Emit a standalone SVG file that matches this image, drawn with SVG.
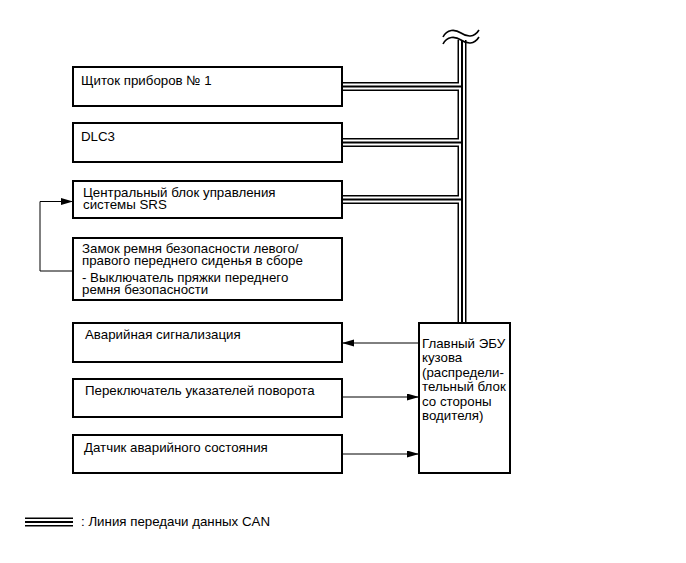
<svg xmlns="http://www.w3.org/2000/svg" width="686" height="563" viewBox="0 0 686 563">
<style>
  .box { fill: #fff; stroke: #000; stroke-width: 2; }
  .t { font-family: "Liberation Sans", Arial, sans-serif; font-size: 13.3px; fill: #000; }
  .busA { fill: none; stroke: #000; stroke-width: 9; }
  .busB { fill: none; stroke: #fff; stroke-width: 6; }
  .busC { fill: none; stroke: #000; stroke-width: 2; }
  .wire { fill: none; stroke: #000; stroke-width: 1; }
  .wave { fill: none; stroke: #000; stroke-width: 1.6; }
</style>
<defs>
  <marker id="ah" markerUnits="userSpaceOnUse" markerWidth="13" markerHeight="8" refX="12" refY="3.5" orient="auto">
    <path d="M0,0 L12,3.5 L0,7 z" fill="#000"/>
  </marker>
  <path id="busPath" d="M462,40 V323 M342,86.5 H462 M342,142.5 H462 M342,199.5 H462"/>
  <path id="legPath" d="M25,522 H73"/>
</defs>
<rect width="686" height="563" fill="#fff"/>

<g id="connectors">
  <use href="#busPath" class="busA"/>
  <use href="#busPath" class="busB"/>
  <use href="#busPath" class="busC"/>
  <path class="wave" d="M443,37 C447,29 455,29 461,33 S474,38 479,30"/>
  <path class="wave" d="M443,44 C447,36 455,36 461,40 S474,45 479,37"/>
  <path class="wire" d="M73,271 H40 V201.5 H73" marker-end="url(#ah)"/>
  <path class="wire" d="M419,343 H342" marker-end="url(#ah)"/>
  <path class="wire" d="M342,397 H419" marker-end="url(#ah)"/>
  <path class="wire" d="M342,454 H419" marker-end="url(#ah)"/>
</g>

<g id="n1"><rect class="box" x="73" y="67" width="269" height="39"/><text class="t" x="81" y="85">Щиток приборов № 1</text></g>
<g id="n2"><rect class="box" x="73" y="123" width="269" height="39"/><text class="t" x="81" y="141">DLC3</text></g>
<g id="n3"><rect class="box" x="73" y="181" width="269" height="37"/><text class="t" x="83" y="197">Центральный блок управления</text><text class="t" x="83" y="209">системы SRS</text></g>
<g id="n4"><rect class="box" x="73" y="238" width="269" height="62"/><text class="t" x="82" y="252.5">Замок ремня безопасности левого/</text><text class="t" x="82" y="264.5">правого переднего сиденья в сборе</text><text class="t" x="82" y="281.5">- Выключатель пряжки переднего</text><text class="t" x="82" y="293.5">ремня безопасности</text></g>
<g id="n5"><rect class="box" x="73" y="323" width="269" height="39"/><text class="t" x="85" y="339">Аварийная сигнализация</text></g>
<g id="n6"><rect class="box" x="73" y="379" width="269" height="38"/><text class="t" x="85" y="395">Переключатель указателей поворота</text></g>
<g id="n7"><rect class="box" x="73" y="435" width="269" height="38"/><text class="t" x="84" y="452">Датчик аварийного состояния</text></g>
<g id="ecu"><rect class="box" x="419" y="323" width="91" height="150"/>
  <text class="t" x="422" y="348">Главный ЭБУ</text>
  <text class="t" x="422" y="362.4">кузова</text>
  <text class="t" x="422" y="376.8">(распредели-</text>
  <text class="t" x="422" y="391.2">тельный блок</text>
  <text class="t" x="422" y="405.6">со стороны</text>
  <text class="t" x="422" y="420">водителя)</text>
</g>

<g id="legend">
  <use href="#legPath" class="busA"/>
  <use href="#legPath" class="busB"/>
  <use href="#legPath" class="busC"/>
  <text class="t" x="81" y="526">: Линия передачи данных CAN</text>
</g>
</svg>
